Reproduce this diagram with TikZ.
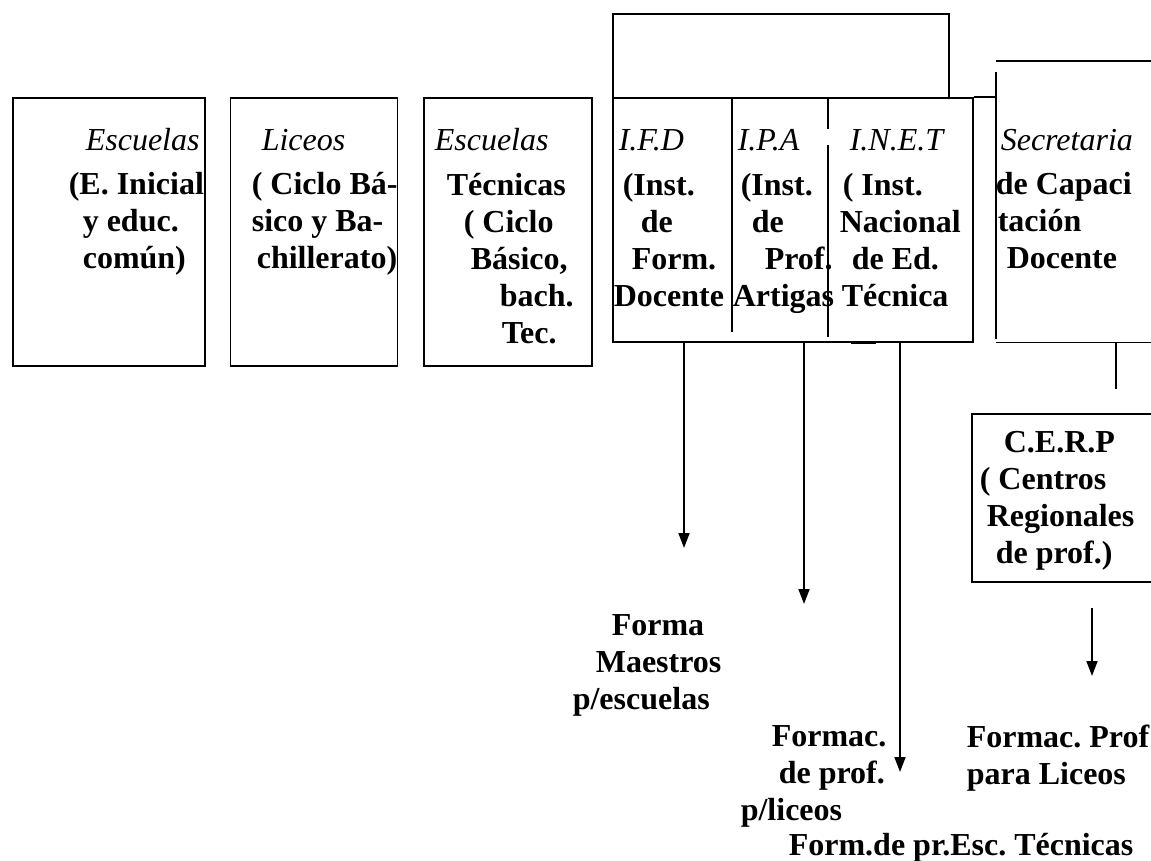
\documentclass[tikz,border=0pt]{standalone}
\usepackage{fontspec}
\setmainfont{Liberation Serif}
\usetikzlibrary{arrows.meta,positioning}
\frenchspacing

\begin{document}
\begin{tikzpicture}[
  x=1pt, y=-1pt,
  line width=1.6pt,
  box/.style={
     rectangle, draw=black, line width=1.6pt,
     anchor=north west, inner sep=0pt},
  head/.style={font=\fontsize{32}{37}\selectfont\itshape, anchor=base west, inner sep=0pt},
  body/.style={font=\fontsize{32}{37}\selectfont\bfseries, align=left, anchor=base west, inner sep=0pt},
  arrow/.style={-{Triangle[length=15pt,width=11pt]}, line width=1.6pt}]
\useasboundingbox (0,0) rectangle (1151,861);
% first row of boxes
\node[box, minimum width=192pt, minimum height=268pt] (esc) at (12,97) {};
\node[box, minimum width=167pt, minimum height=268pt, right=24pt of esc] (lic) {};
\node[box, minimum width=168pt, minimum height=268pt, right=25pt of lic] (tec) {};
% teacher training group
\node[box, minimum width=336pt, minimum height=84pt] (top) at (612,13) {};
\node[box, minimum width=360pt, minimum height=244pt] (grp) at (612,97) {};
\node[box, draw=none, minimum width=200pt, minimum height=280pt] (sec) at (996,61) {};
\node[box, minimum width=200pt, minimum height=168pt] (cerp) at (971,413) {};
\draw ([xshift=120pt]grp.north west) -- ++(0,235);
\draw ([xshift=216pt]grp.north west) -- ++(0,32) ++(0,16) -- ++(0,192);
\draw[line width=3.2pt] ([xshift=239pt]grp.south west) -- ++(25,0);
\draw (grp.north east) -- (grp.north east -| sec.west);
% the secretaria box is open at its top left corner
\draw (sec.north west) -- (sec.north east);
\draw ([yshift=-11pt]sec.north west) -- ([yshift=4pt]sec.south west);
\draw (sec.south west) -- (sec.south east);
% titles
\node[head] (escT)  at (85,151)   {Escuelas};
\node[head] (licT)  at (261,151)  {Liceos};
\node[head] (tecT)  at (434,151)  {Escuelas};
\node[head] (ifdT)  at (618,151)  {I.F.D};
\node[head] (ipaT)  at (737,151)  {I.P.A};
\node[head] (inetT) at (849,151)  {I.N.E.T};
\node[head] (secT)  at (1000,151) {Secretaria};
% texts in the boxes (placed at the baseline of their last line)
\node[body] (escB)  at (68,269)  {(E. Inicial\\\hspace*{14pt}y educ.\\\hspace*{14pt}común)};
\node[body] (licB)  at (251,269) {( Ciclo Bá-\\sico y Ba-\\\hspace*{5pt}chillerato)};
\node[body] (tecB)  at (446,343) {Técnicas\\\hspace*{17pt}( Ciclo\\\hspace*{24pt}Básico,\\\hspace*{53pt}bach.\\\hspace*{55pt}Tec.};
\node[body] (ifdB)  at (613,306) {\hspace*{9pt}(Inst.\\\hspace*{27pt}de\\\hspace*{18pt}Form.\\Docente};
\node[body] (ipaB)  at (732,306) {\hspace*{8pt}(Inst.\\\hspace*{19pt}de\\\hspace*{32pt}Prof.\\Artigas};
\node[body] (inetB) at (839,306) {\hspace*{3pt}( Inst.\\Nacional\\\hspace*{12pt}de Ed.\\\hspace*{2pt}Técnica};
\node[body] (secB)  at (995,269) {de Capaci\\\hspace*{2pt}tación\\\hspace*{11pt}Docente};
\node[body] (cerpB) at (979,563) {\hspace*{24pt}C.E.R.P\\( Centros\\\hspace*{7pt}Regionales\\\hspace*{16pt}de prof.)};
% what each one trains
\node[body] (maestros) at (572,709) {\hspace*{39pt}Forma\\\hspace*{23pt}Maestros\\p/escuelas};
\node[body] (proflic)  at (740,820) {\hspace*{31pt}Formac.\\\hspace*{38pt}de prof.\\p/liceos};
\node[body] (proftec)  at (788,855) {Form.de pr.Esc. Técnicas};
\node[body] (profcerp) at (966,784) {Formac. Prof\\para Liceos};
% arrows
\coordinate (ifdout)  at (684,548);
\coordinate (ipaout)  at (804,604);
\coordinate (inetout) at (900,772);
\coordinate (secstub) at (1116,389);
\coordinate (cerpout) at (1092,676);
\draw[arrow] (ifdout |- grp.south) -- (ifdout);
\draw[arrow] (ipaout |- grp.south) -- (ipaout);
\draw[arrow] (inetout |- grp.south) -- (inetout);
\draw (secstub |- sec.south) -- (secstub);
\draw[arrow] (cerpout |- cerp.south) ++(0,25) -- (cerpout);
\end{tikzpicture}
\end{document}
